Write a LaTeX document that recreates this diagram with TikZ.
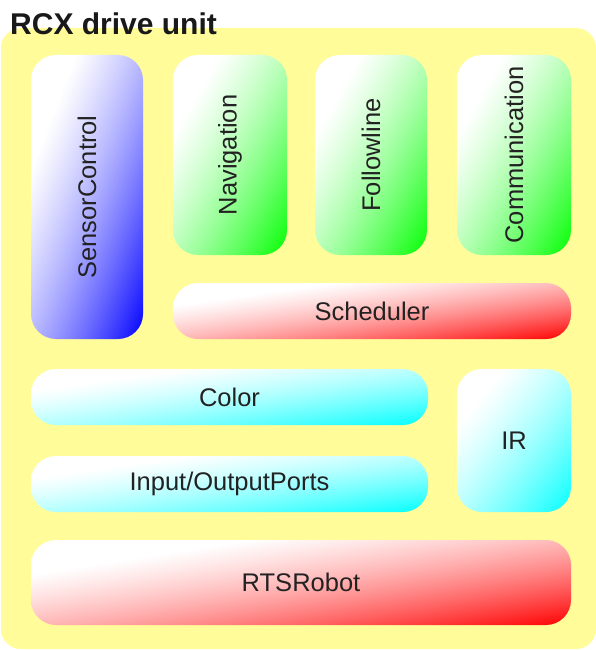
\documentclass[tikz,border=0pt]{standalone}
\usepackage{fontspec}
\setmainfont{Liberation Sans}
\usepackage{graphicx}
\usepackage{tikz}
\usetikzlibrary{positioning}
\usepackage{xcolor}

\definecolor{unitbg}{RGB}{255,252,153}
\definecolor{labeltext}{RGB}{34,34,34}

% white top left, full colour bottom right (stretched to each box)
\pgfdeclarefunctionalshading{unitblue}{\pgfpoint{-50bp}{-50bp}}{\pgfpoint{50bp}{50bp}}{}{%
  neg add 50 add 100 div 0.2 sub 0.8 div dup abs add 2 div dup 0.4 mul 0.6 add mul 1 exch sub dup 1}
\pgfdeclarefunctionalshading{unitgreen}{\pgfpoint{-50bp}{-50bp}}{\pgfpoint{50bp}{50bp}}{}{%
  neg add 50 add 100 div 0.2 sub 0.8 div dup abs add 2 div dup 0.4 mul 0.6 add mul 1 exch sub dup 1 exch}
\pgfdeclarefunctionalshading{unitred}{\pgfpoint{-50bp}{-50bp}}{\pgfpoint{50bp}{50bp}}{}{%
  neg add 50 add 100 div 0.2 sub 0.8 div dup abs add 2 div dup 0.4 mul 0.6 add mul 1 exch sub 1 exch dup}
\pgfdeclarefunctionalshading{unitcyan}{\pgfpoint{-50bp}{-50bp}}{\pgfpoint{50bp}{50bp}}{}{%
  neg add 50 add 100 div 0.2 sub 0.8 div dup abs add 2 div dup 0.4 mul 0.6 add mul 1 exch sub 1 1}

\begin{document}
\begin{tikzpicture}[x=1pt, y=-1pt,
  unit/.style={rounded corners=25pt, inner sep=0pt, text=labeltext,
    font=\fontsize{25.5}{30}\selectfont},
  blueunit/.style={unit, shade, shading=unitblue},
  greenunit/.style={unit, shade, shading=unitgreen},
  redunit/.style={unit, shade, shading=unitred},
  cyanunit/.style={unit, shade, shading=unitcyan}]

\useasboundingbox (0,0) rectangle (596,650);

% drive unit background
\fill[unitbg, rounded corners=20pt] (1,28) rectangle (596,649);
\node[anchor=base west, inner sep=0pt, text=black!90, font=\fontsize{30}{34}\selectfont\bfseries] (title) at (10,35) {RCX drive unit};

% upper row
\node[blueunit, minimum width=112pt, minimum height=284pt] (sensor) at (87,197) {\rotatebox{90}{SensorControl}};
\node[greenunit, minimum width=114pt, minimum height=200pt] (nav) at (230,155) {\rotatebox{90}{Navigation}};
\node[greenunit, minimum width=112pt, minimum height=200pt] (follow) at (371,155) {\rotatebox{90}{Followline}};
\node[greenunit, minimum width=114pt, minimum height=200pt] (comm) at (514,155) {\rotatebox{90}{Communication}};
\node[redunit, minimum width=398pt, minimum height=56pt] (sched) at (372,311) {Scheduler};

% lower rows
\node[cyanunit, minimum width=397pt, minimum height=56pt] (color) at (229.5,397) {Color};
\node[cyanunit, minimum width=397pt, minimum height=56pt] (ports) at (229.5,484) {Input/OutputPorts};
\node[cyanunit, minimum width=114pt, minimum height=143pt] (ir) at (514,440.5) {IR};
\node[redunit, minimum width=540pt, minimum height=85pt] (robot) at (301,582.5) {RTSRobot};

\end{tikzpicture}
\end{document}
